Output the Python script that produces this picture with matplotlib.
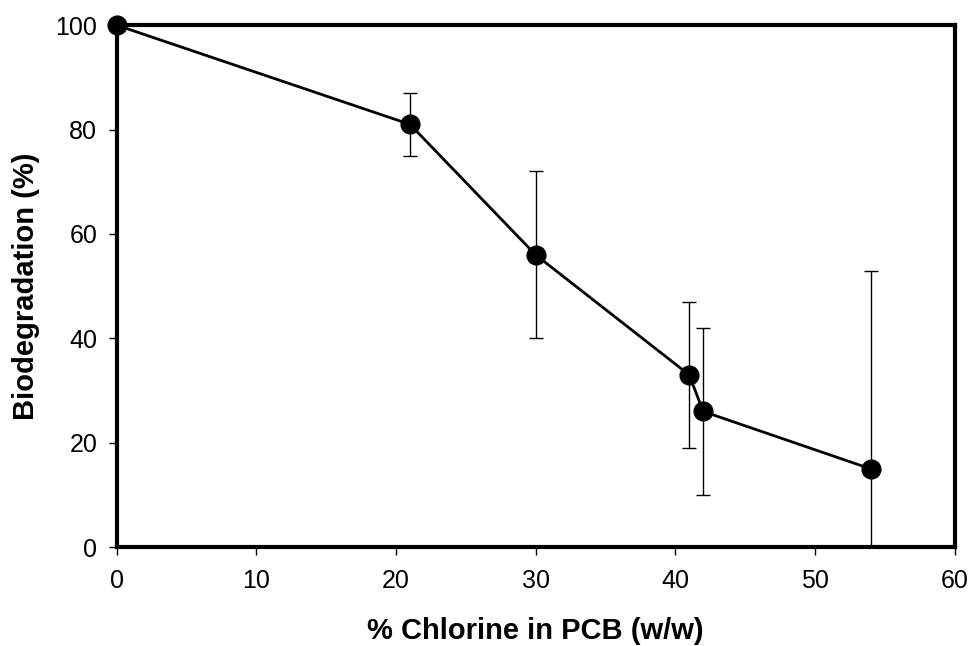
import matplotlib.pyplot as plt
import numpy as np

plt.rcParams['font.family'] = ['Liberation Sans', 'DejaVu Sans']

# dados
chlorine = [0, 21, 30, 41, 42, 54]
biodeg = [100, 81, 56, 33, 26, 15]
err_low = [0, 6, 16, 14, 16, 38]
err_high = [0, 6, 16, 14, 16, 38]

fig = plt.figure(figsize=(9.73, 6.46), dpi=100)
ax = fig.add_axes([0.120, 0.153, 0.861, 0.808])

ax.errorbar(chlorine, biodeg, yerr=[err_low, err_high], fmt='none',
            ecolor='black', elinewidth=1, capsize=5, capthick=1)
ax.plot(chlorine, biodeg, color='black', linewidth=2, marker='o',
        markersize=13.5, clip_on=False, zorder=5)

ax.set_xlim(0, 60)
ax.set_ylim(0, 100)
ax.set_xticks(np.arange(0, 61, 10))
ax.set_yticks(np.arange(0, 101, 20))
ax.tick_params(direction='out', length=6, width=1, labelsize=18)
ax.tick_params(axis='x', pad=10)
ax.tick_params(axis='y', pad=8)
for s in ax.spines.values():
    s.set_linewidth(3)

ax.set_xlabel('% Chlorine in PCB (w/w)', fontsize=21, fontweight='bold', labelpad=17)
ax.set_ylabel('Biodegradation (%)', fontsize=21, fontweight='bold', labelpad=11)

fig.savefig('out.png', dpi=100)
